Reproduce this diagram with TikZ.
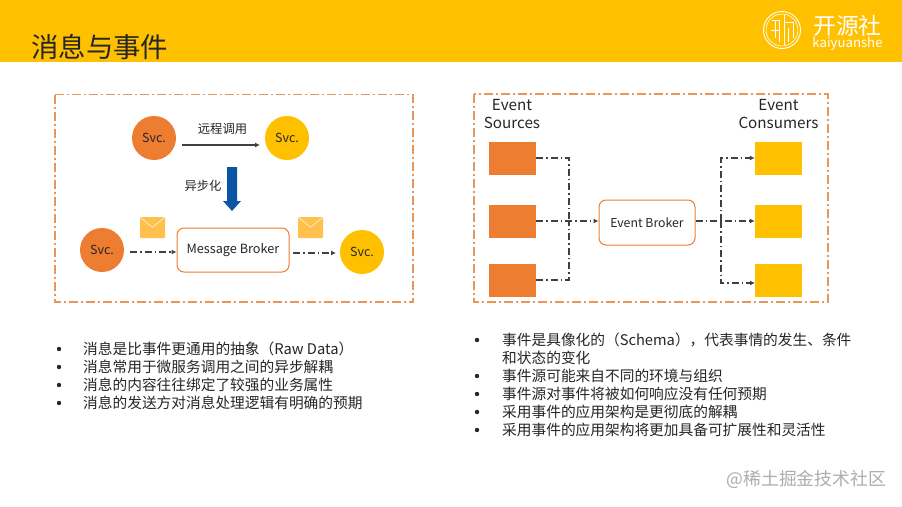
\documentclass[tikz,border=0pt]{standalone}
\usepackage{fontspec}
\setmainfont{Noto Sans CJK SC}
\usetikzlibrary{arrows.meta}
\definecolor{headyellow}{HTML}{FFC000}
\definecolor{svcorange}{HTML}{ED7D31}
\definecolor{framedash}{HTML}{E8975A}
\definecolor{mailyellow}{HTML}{FFC04D}
\definecolor{arrowblue}{HTML}{0B55A5}
\definecolor{textdark}{HTML}{262626}
\definecolor{linedark}{HTML}{404040}
\tikzset{
    frame/.style={draw=framedash, line width=1.5pt, dash pattern=on 9pt off 3pt on 2pt off 3pt},
    svcnode/.style={circle, minimum size=44pt, inner sep=0pt, font=\fontsize{12.5}{14}\selectfont, text=textdark},
    brokerbox/.style={draw=svcorange, line width=1pt, fill=white, rounded corners=7pt, inner sep=0pt, font=\fontsize{12.3}{14}\selectfont, text=textdark},
    flow/.style={draw=linedark, line width=1.2pt, dash pattern=on 7pt off 3pt on 1.5pt off 3pt},
    tiparrow/.style={-{Latex[length=5pt,width=5pt]}},
    caption/.style={font=\fontsize{15.2}{18}\selectfont, text=textdark, align=center},
    listitem/.style={anchor=west, align=left, inner sep=0pt, font=\fontsize{14.7}{18}\selectfont, text=textdark},
    bulletdot/.style={circle, fill=textdark, minimum size=4.4pt, inner sep=0pt},
    blockbox/.style={minimum width=47pt, minimum height=33pt, inner sep=0pt},
    mailbox/.style={fill=mailyellow, rounded corners=0.8pt, minimum width=25pt, minimum height=21pt, inner sep=0pt}
}
\begin{document}
\begin{tikzpicture}[x=1pt, y=-1pt]
    \useasboundingbox (0,0) rectangle (902,506);
    \fill[white] (0,0) rectangle (902,506);
    \fill[headyellow] (0,0) rectangle (902,62);
    \node[anchor=west, inner sep=0pt, font=\fontsize{27.4}{30}\selectfont, text=textdark] (title) at (31,47) {消息与事件};

    % logo
    \draw[white, line width=0.9pt] (782,30) circle (18.5);
    \draw[white, line width=0.6pt] (782,30) circle (16);
    \draw[white, line width=0.8pt] (772,20) -- (780,20) (775,20) -- (775,38) (779,20) -- (779,42)
        (784,15) -- (784,45) (784,22) -- (793,22) -- (793,38) (788,28) -- (788,42) (771,30) -- (780,30);
    \node[inner sep=0pt, font=\fontsize{22.8}{24}\selectfont, text=white, text height=17pt, text depth=0pt] (logocn) at (847.5,26) {开源社};
    \node[inner sep=0pt, font=\fontsize{13.2}{15}\selectfont, text=white, text height=9pt, text depth=2pt] (logoen) at (847.5,44) {kaiyuanshe};

    % message side
    \draw[frame] (55,94.5) rectangle (413,302);
    \node[svcnode, fill=svcorange] (svca) at (154,138) {Svc.};
    \node[svcnode, fill=headyellow] (svcb) at (287,138) {Svc.};
    \node[svcnode, fill=svcorange] (svcc) at (102,250) {Svc.};
    \node[svcnode, fill=headyellow] (svcd) at (362,252) {Svc.};
    \node[brokerbox, minimum width=112pt, minimum height=44pt, font=\fontsize{12.7}{14}\selectfont] (msgbroker) at (233,250) {Message Broker};
    \coordinate (callfrom) at (182,145);
    \coordinate (callto) at (260,145);
    \draw[draw=linedark, line width=1.1pt, tiparrow] (callfrom) -- (callto);
    \node[caption, font=\fontsize{12.3}{14}\selectfont] (calllabel) at (222.5,129) {远程调用};
    \node[caption, font=\fontsize{12.3}{14}\selectfont] (asynclabel) at (203,186) {异步化};
    \fill[arrowblue] (227,167) -- (237,167) -- (237,201) -- (241,201) -- (232,211) -- (223,201) -- (227,201) -- cycle;
    \node[mailbox] (maila) at (152.5,227.5) {};
    \node[mailbox] (mailb) at (310.5,227.5) {};
    \draw[white!85!mailyellow, line width=0.6pt] (maila.north west) -- (maila.center) -- (maila.north east);
    \draw[white!85!mailyellow, line width=0.6pt] (mailb.north west) -- (mailb.center) -- (mailb.north east);
    \coordinate (pubfrom) at (130,252);
    \coordinate (subfrom) at (293,253);
    \coordinate (subto) at (336,253);
    \draw[flow, tiparrow] (pubfrom) -- (msgbroker.west |- pubfrom);
    \draw[flow, tiparrow] (subfrom) -- (subto);

    % event side
    \draw[frame] (474,94) rectangle (828,302);
    \node[caption] (srclabel) at (512,114) {Event\\Sources};
    \node[caption] (conlabel) at (778.5,114) {Event\\Consumers};
    \node[blockbox, fill=svcorange] (srca) at (512.5,158) {};
    \node[blockbox, fill=svcorange] (srcb) at (512.5,221) {};
    \node[blockbox, fill=svcorange] (srcc) at (512.5,280) {};
    \node[blockbox, fill=headyellow] (cona) at (778.5,158) {};
    \node[blockbox, fill=headyellow] (conb) at (778.5,221) {};
    \node[blockbox, fill=headyellow] (conc) at (778.5,280) {};
    \node[brokerbox, minimum width=96pt, minimum height=45pt] (evtbroker) at (647,222.5) {Event Broker};
    \coordinate (joinl) at (569,221);
    \coordinate (joinr) at (721,221);
    \coordinate (conclow) at (755,283);
    \draw[flow] (srca.east) -| (joinl);
    \draw[flow] (srcc.east) -| (joinl);
    \draw[flow, tiparrow] (srcb.east) -- (evtbroker.west |- srcb.east);
    \draw[flow, tiparrow] (evtbroker.east |- conb.west) -- (conb.west);
    \draw[flow, tiparrow] (joinr) |- (cona.west);
    \draw[flow, tiparrow] (joinr) |- (conclow);

    % lists
    \node[listitem] (msga) at (83,348.5) {消息是比事件更通用的抽象（Raw Data）};
    \node[listitem] (msgb) at (83,366.5) {消息常用于微服务调用之间的异步解耦};
    \node[listitem] (msgc) at (83,384.5) {消息的内容往往绑定了较强的业务属性};
    \node[listitem] (msgd) at (83,402.5) {消息的发送方对消息处理逻辑有明确的预期};
    \node[bulletdot] (dota) at (59,349) {};
    \node[bulletdot] (dotb) at (59,367) {};
    \node[bulletdot] (dotc) at (59,385) {};
    \node[bulletdot] (dotd) at (59,403) {};
    \node[listitem] (evta) at (502,348.5) {事件是具像化的（Schema），代表事情的发生、条件\\和状态的变化};
    \node[listitem] (evtb) at (502,375.5) {事件源可能来自不同的环境与组织};
    \node[listitem] (evtc) at (502,393.5) {事件源对事件将被如何响应没有任何预期};
    \node[listitem] (evtd) at (502,411.5) {采用事件的应用架构是更彻底的解耦};
    \node[listitem] (evte) at (502,429.5) {采用事件的应用架构将更加具备可扩展性和灵活性};
    \node[bulletdot] (dote) at (477,340) {};
    \node[bulletdot] (dotf) at (477,376) {};
    \node[bulletdot] (dotg) at (477,394) {};
    \node[bulletdot] (doth) at (477,412) {};
    \node[bulletdot] (doti) at (477,430) {};

    % watermark
    \node[anchor=east, inner sep=0pt, font=\fontsize{17.8}{21}\selectfont, text=black!32] (mark) at (886,479) {@稀土掘金技术社区};
\end{tikzpicture}
\end{document}
